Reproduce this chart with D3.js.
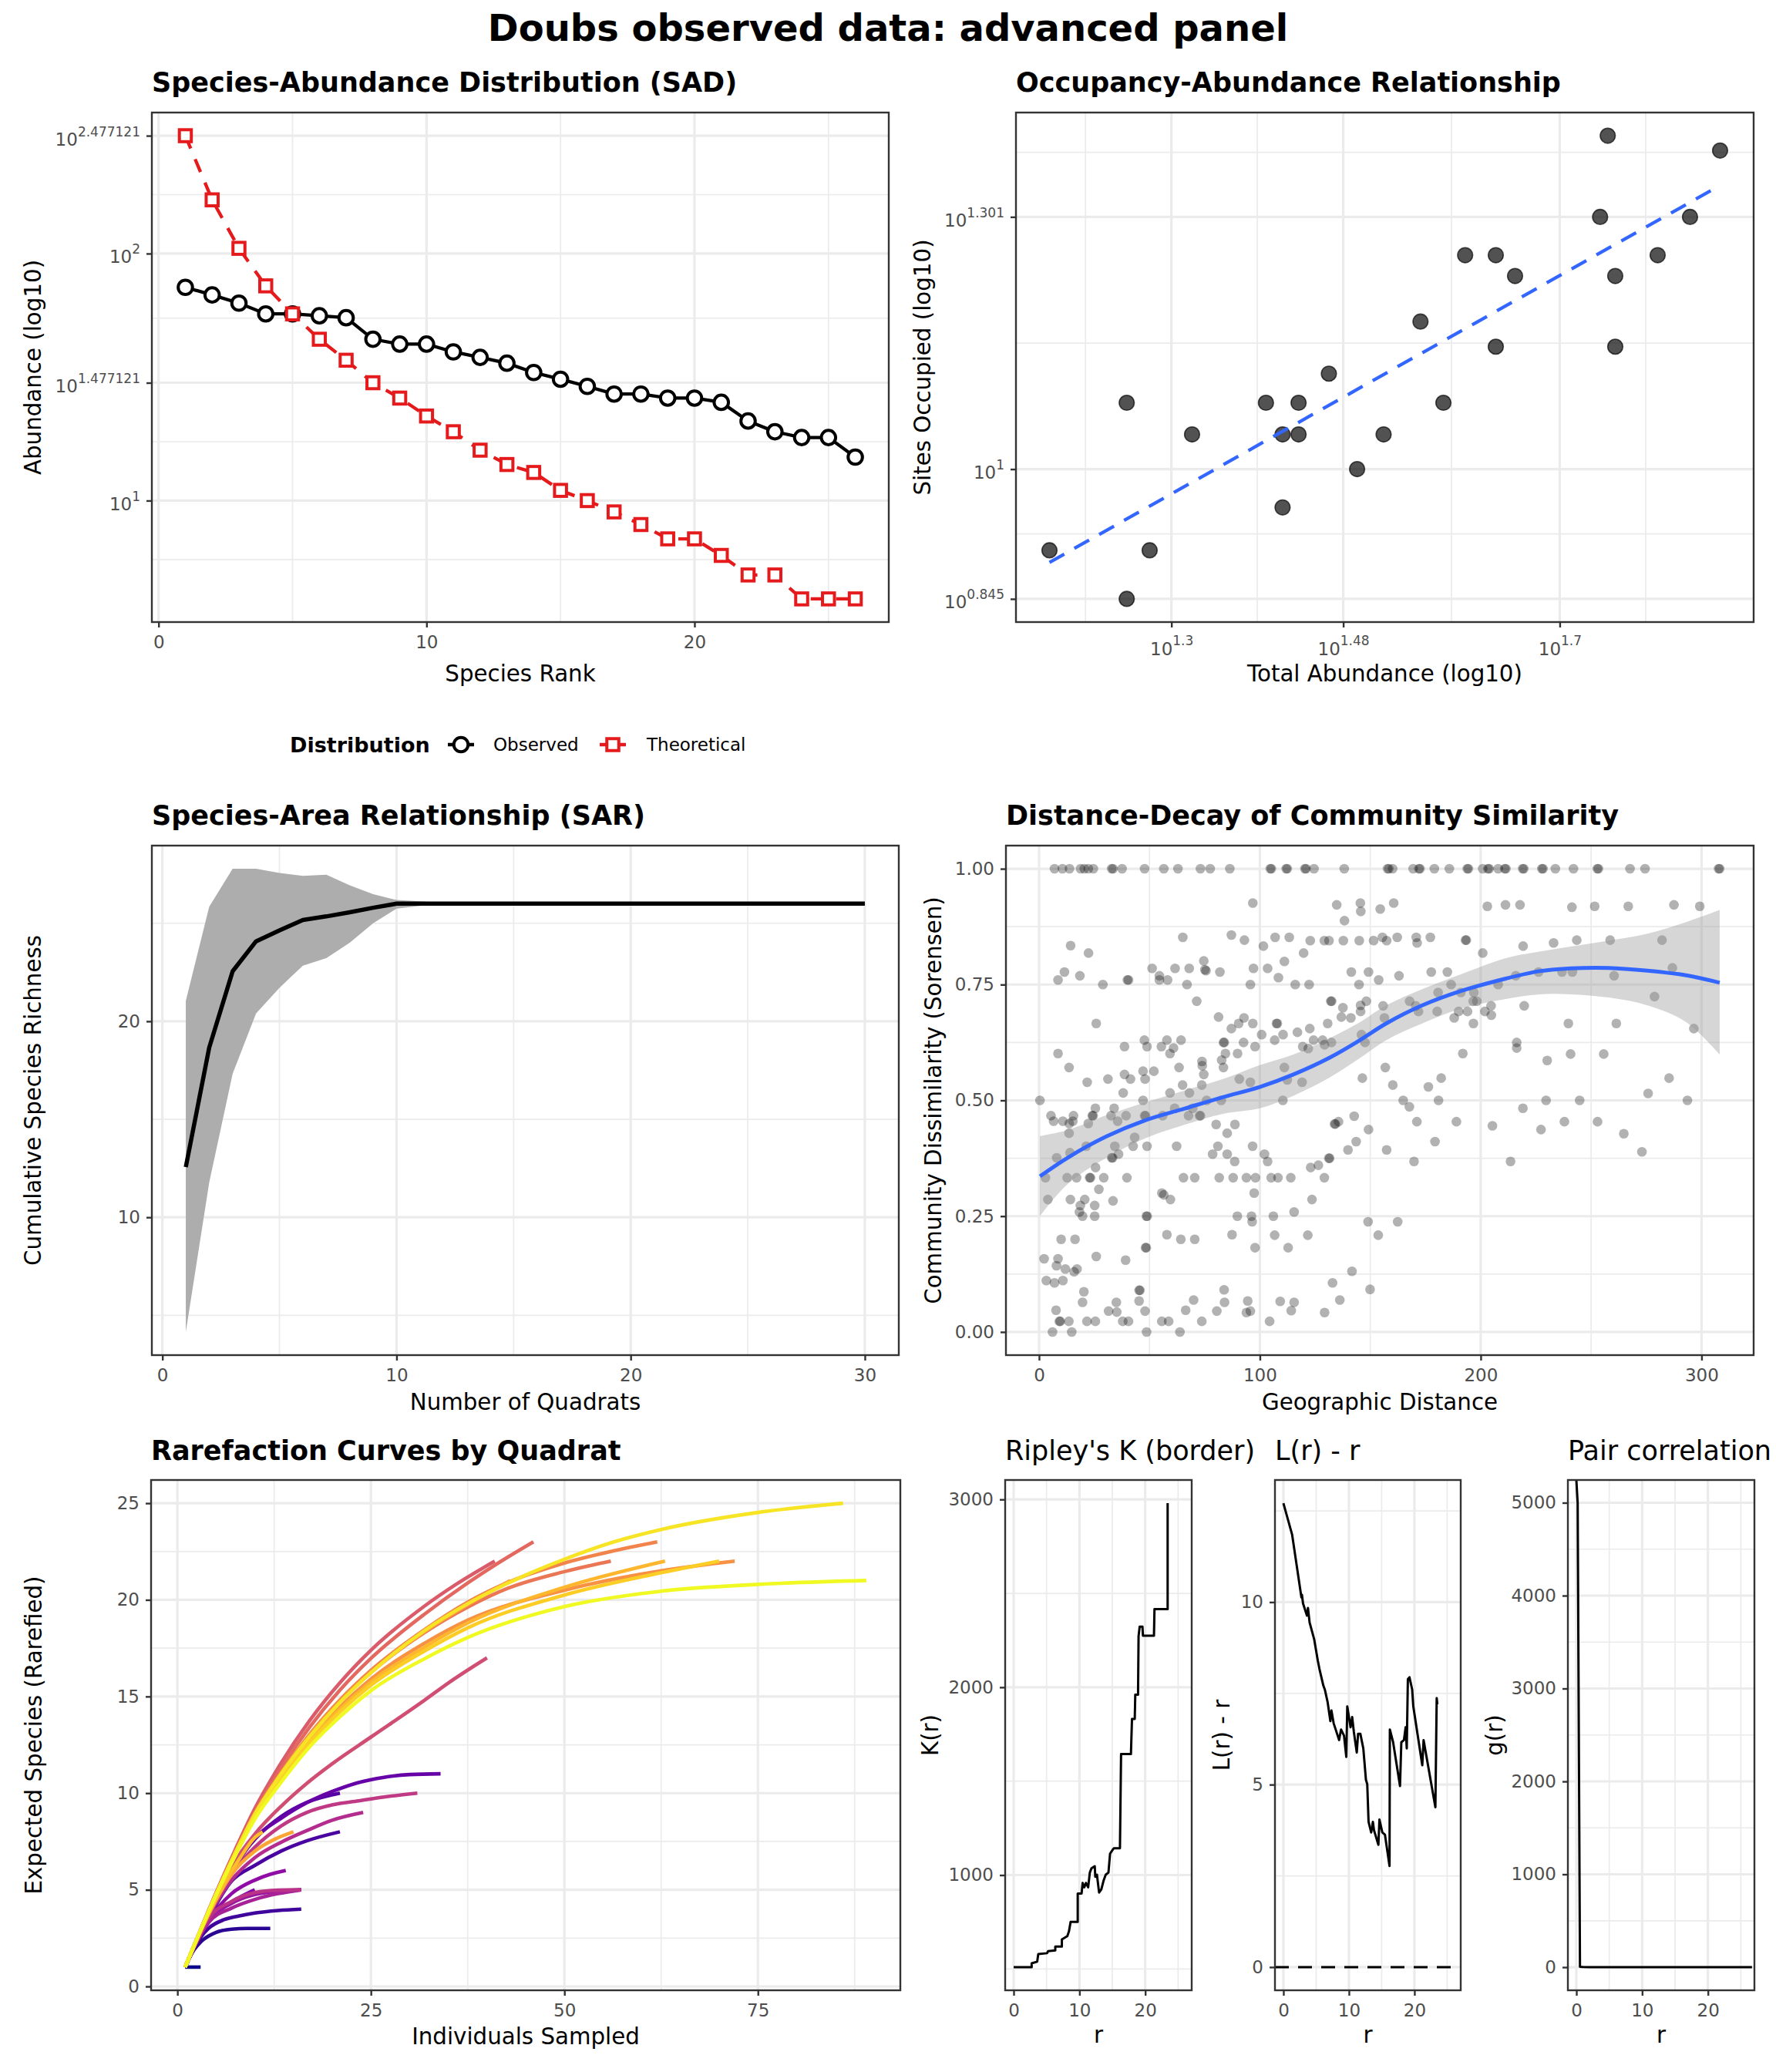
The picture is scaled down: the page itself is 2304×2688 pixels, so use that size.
<!DOCTYPE html>
<html>
<head>
<meta charset="utf-8">
<script src="https://cdn.jsdelivr.net/npm/d3@7/dist/d3.min.js"></script>
<style>
  html, body { margin:0; padding:0; background:#ffffff; }
  svg { display:block; }
</style>
</head>
<body>
<svg id="chart" width="2304" height="2688"></svg>
<script>
// ===================== DATA =====================
// --- Species-Abundance Distribution ---
const speciesRank = [1,2,3,4,5,6,7,8,9,10,11,12,13,14,15,16,17,18,19,20,21,22,23,24,25,26];
const observedAbundance = [73,68,63,57,57,56,55,45,43,43,40,38,36,33,31,29,27,27,26,26,25,21,19,18,18,15];
const theoreticalAbundance = [300,165,105,74,57,45,37,30,26,22,19,16,14,13,11,10,9,8,7,7,6,5,5,4,4,4];
const distributionLabels = ["Observed","Theoretical"];
const sadXTicks = [0,10,20];
const sadXMinor = [5,15,25];
const sadYTicks = [10,30,100,300];
const sadYTickExp = ["1","1.477121","2","2.477121"];
const sadYMinor = [5.774,17.32,54.77,173.2];

// --- Occupancy-Abundance ---
const occAbundance = [15,18,18,19,21,25,26,26,27,27,29,31,33,36,38,40,43,43,45,55,56,57,57,63,68,73];
const occSites     = [8,12,7,8,11,12,11,9,12,11,13,10,11,15,12,18,18,14,17,20,25,17,14,18,20,24];
const occXTicks = [20,30,50];
const occXTickExp = ["1.3","1.48","1.7"];
const occXMinor = [16.33,24.49,38.73,61.24];
const occYTicks = [7,10,20];
const occYTickExp = ["0.845","1","1.301"];
const occYMinor = [8.37,14.14,23.88];

// --- Species-Area Relationship ---
const sarQuadrats = [1,2,3,4,5,6,7,8,9,10,11,12,13,14,15,16,17,18,19,20,21,22,23,24,25,26,27,28,29,30];
const sarMean  = [12.56,18.66,22.55,24.08,24.64,25.17,25.35,25.56,25.79,26.0,26.0,26.0,26.0,26.0,26.0,26.0,26.0,26.0,26.0,26.0,26.0,26.0,26.0,26.0,26.0,26.0,26.0,26.0,26.0,26.0];
const sarUpper = [21.04,25.85,27.78,27.78,27.57,27.42,27.48,26.94,26.48,26.19,26.12,26.05,26.02,26.0,26.0,26.0,26.0,26.0,26.0,26.0,26.0,26.0,26.0,26.0,26.0,26.0,26.0,26.0,26.0,26.0];
const sarLower = [4.15,11.78,17.32,20.40,21.71,22.84,23.22,24.01,25.0,25.75,25.88,25.96,25.99,26.0,26.0,26.0,26.0,26.0,26.0,26.0,26.0,26.0,26.0,26.0,26.0,26.0,26.0,26.0,26.0,26.0];
const sarXTicks = [0,10,20,30];
const sarXMinor = [5,15,25];
const sarYTicks = [10,20];
const sarYMinor = [5,15,25];

// --- Distance-Decay ---
const ddDistance = [
  7.0,10.6,13.8,18.8,20.5,22.3,24.6,32.9,33.5,37.6,
  47.8,56.5,62.9,73.1,77.5,86.4,104.7,105.2,111.9,112.4,
  120.4,120.9,124.5,138.2,157.8,158.4,160.1,169.4,172.0,172.5,
  179.0,185.8,193.9,194.4,200.9,203.3,203.8,207.9,210.9,211.4,
  219.0,219.5,227.7,228.2,233.8,242.0,252.8,253.3,267.6,274.4,
  307.7,308.2,
  96.8,65.1,87.1,93.0,14.3,22.4,11.5,8.6,18.5,28.9,
  40.0,40.5,51.2,54.5,54.5,58.2,61.6,68.0,67.0,74.6,
  75.1,75.6,81.9,97.1,95.7,71.4,25.9,81.3,87.1,90.4,
  92.8,96.8,8.6,38.7,47.7,48.9,55.4,57.9,59.3,60.9,
  64.3,83.5,83.9,84.4,89.9,92.6,97.8,82.7,73.8,73.9,
  83.5,13.6,63.4,74.6,21.8,31.2,38.7,41.4,47.1,48.0,
  52.0,65.0,68.1,59.3,73.7,90.7,95.7,38.1,0.4,47.1,
  75.9,82.5,25.5,34.0,5.4,6.6,10.8,13.7,15.6,15.3,
  24.1,24.5,22.3,32.6,35.6,39.4,47.8,48.2,56.0,61.4,
  67.7,69.6,72.7,73.1,80.2,85.2,88.7,13.6,43.3,21.4,
  34.3,42.6,48.9,62.3,81.0,96.7,8.0,14.0,32.9,33.3,
  36.0,78.6,85.2,88.6,25.6,2.9,12.7,17.0,22.9,23.3,
  29.3,39.8,65.4,70.5,81.6,87.9,93.9,98.0,27.1,4.0,
  14.2,20.7,18.7,25.2,33.5,55.6,56.5,59.5,97.4,18.3,
  19.7,25.2,48.6,49.0,89.8,96.2,96.5,10.0,16.3,57.9,
  64.2,70.5,87.4,97.8,48.2,48.6,2.3,8.6,25.9,39.2,
  7.9,11.9,15.9,17.2,3.3,7.0,10.8,20.3,45.3,45.7,
  83.8,19.7,35.0,45.3,70.0,84.0,94.5,7.7,31.5,35.2,
  48.0,66.4,80.5,93.9,95.7,9.2,9.6,13.5,21.7,25.5,
  37.9,40.5,55.6,58.7,73.7,6.1,14.8,48.7,63.8,
  134.8,145.5,145.7,138.3,154.5,160.6,203.0,211.2,101.6,106.9,
  113.3,122.8,119.8,129.2,131.3,137.8,145.0,151.5,155.5,157.4,
  162.2,170.8,171.2,177.2,193.1,193.5,200.9,103.5,111.1,108.4,
  116.0,122.3,141.4,149.2,144.9,153.8,163.0,177.6,184.9,186.6,
  207.9,132.1,132.5,137.6,145.6,148.2,145.6,136.9,141.2,155.8,
  156.4,167.8,171.8,170.6,180.7,180.3,188.0,190.0,194.0,191.0,
  196.9,196.6,198.2,196.7,201.9,204.7,204.8,107.5,107.9,100.8,
  106.7,110.5,117.0,122.6,130.7,119.4,121.9,124.3,128.4,129.3,
  132.4,146.0,147.6,191.9,111.1,112.4,119.1,146.4,156.8,160.2,
  176.3,182.1,110.4,164.9,167.7,180.9,142.7,133.8,134.2,135.6,
  149.2,171.1,189.0,205.3,143.6,139.9,157.4,179.3,102.1,103.5,
  169.8,131.2,131.6,123.0,126.5,129.2,105.1,108.2,114.0,123.6,
  106.1,115.5,149.0,162.4,106.7,121.7,153.6,112.8,141.7,132.9,
  149.9,109.2,115.5,136.2,114.2,129.3,104.4,
  217.8,241.3,251.6,266.8,287.5,299.2,219.2,233.0,243.5,258.6,
  282.1,215.9,226.2,236.8,241.5,260.4,286.8,219.7,278.7,239.7,
  261.4,296.5,216.3,216.3,230.1,240.7,255.7,285.3,275.8,219.1,
  229.6,244.8,293.6,227.3,237.9,252.9,264.8,273.0,213.5
];
const ddDissimilarity = [
  1,1,1,1,1,1,1,1,1,1,
  1,1,1,1,1,1,1,1,1,1,
  1,1,1,1,1,1,1,1,1,1,
  1,1,1,1,1,1,1,1,1,1,
  1,1,1,1,1,1,1,1,1,1,
  1,1,
  .926,.852,.857,.846,.834,.818,.777,.760,.769,.750,
  .760,.760,.785,.769,.760,.760,.785,.785,.750,.801,
  .782,.780,.777,.785,.750,.714,.666,.680,.655,.666,
  .678,.666,.601,.616,.630,.616,.616,.630,.601,.613,
  .630,.625,.625,.601,.601,.625,.616,.587,.584,.575,
  .571,.571,.571,.556,.539,.546,.556,.546,.563,.546,
  .563,.533,.516,.516,.533,.546,.539,.516,.500,.500,
  .500,.500,.483,.483,.467,.455,.455,.450,.467,.455,
  .467,.467,.450,.467,.455,.467,.467,.467,.467,.483,
  .467,.483,.467,.467,.448,.429,.448,.429,.420,.401,
  .401,.401,.401,.401,.401,.401,.376,.387,.376,.376,
  .384,.384,.384,.368,.355,.333,.333,.333,.333,.333,
  .333,.333,.333,.333,.333,.333,.333,.333,.308,.286,
  .286,.286,.273,.273,.283,.300,.296,.286,.300,.259,
  .250,.250,.250,.250,.250,.250,.238,.200,.200,.210,
  .200,.200,.210,.182,.182,.182,.158,.158,.163,.155,
  .143,.136,.130,.136,.111,.106,.111,.087,.090,.090,
  .091,.064,.064,.067,.069,.064,.067,.047,.045,.043,
  .045,.047,.045,.042,.045,.023,.023,.023,.023,.023,
  .023,.023,.023,.023,.023,0,0,0,0,
  .922,.926,.908,.888,.913,.926,.919,.922,.833,.852,
  .852,.845,.818,.845,.845,.845,.845,.845,.852,.845,
  .852,.852,.840,.852,.846,.846,.818,.785,.800,.765,
  .750,.750,.777,.777,.750,.760,.769,.777,.777,.750,
  .750,.714,.714,.700,.705,.714,.692,.680,.678,.704,
  .678,.714,.692,.704,.733,.692,.678,.692,.692,.733,
  .733,.714,.714,.666,.692,.704,.684,.666,.666,.642,
  .630,.642,.647,.655,.666,.616,.612,.630,.630,.620,
  .625,.642,.625,.601,.571,.544,.539,.548,.571,.533,
  .529,.548,.500,.500,.486,.500,.466,.449,.449,.454,
  .437,.454,.454,.445,.411,.393,.393,.411,.384,.368,
  .368,.375,.375,.355,.360,.333,.333,.333,.333,.286,
  .250,.259,.238,.238,.209,.209,.209,.182,.131,.106,
  .092,.066,.064,.069,.046,.042,.023,
  .922,.917,.919,.919,.922,.919,.833,.840,.846,.846,
  .846,.769,.777,.777,.777,.769,.786,.704,.724,.666,
  .666,.655,.625,.613,.586,.600,.600,.548,.515,.483,
  .500,.500,.500,.437,.454,.454,.428,.389,.368
];
const ddSmoothX = [0.4,12.9,30.5,48.1,65.7,83.3,100,115.2,131.5,144.3,157.2,173.5,191.0,211.4,226.6,240.6,258.0,275.5,293.0,308.2];
const ddSmoothY = [0.336,0.376,0.422,0.457,0.482,0.507,0.529,0.556,0.592,0.627,0.666,0.705,0.736,0.763,0.779,0.785,0.786,0.780,0.770,0.754];
const ddSmoothHi = [0.423,0.436,0.468,0.496,0.521,0.546,0.576,0.599,0.634,0.666,0.705,0.740,0.772,0.807,0.821,0.832,0.845,0.860,0.885,0.911];
const ddSmoothLo = [0.250,0.319,0.376,0.418,0.447,0.471,0.483,0.510,0.549,0.588,0.630,0.666,0.698,0.719,0.729,0.729,0.722,0.705,0.669,0.599];
const ddXTicks = [0,100,200,300];
const ddXMinor = [50,150,250];
const ddYTicks = [0,0.25,0.5,0.75,1];
const ddYMinor = [0.125,0.375,0.625,0.875];

// --- Rarefaction curves (individuals sampled, expected species, plasma position) ---
const rareIndividuals = [
  [1,2,3],
  [1,2,3,4,5,7,9,12],
  [1,2,3,4,6,8,10,13,16],
  [1,2,4,6,8,10],
  [1,2,4,7,10,13,16],
  [1,2,4,7,10,13,16],
  [1,2,4,7,10,13,16],
  [1,2,4,7,10,12,14],
  [1,2,4,7,10,13.4,16.7,21],
  [1,2,4,7,10,13.4,16.7,20,24],
  [1,2,4,7,10,12.5,15],
  [1,2,4,6,8,10,11],
  [1,2,4,6.8,10.1,13.4,16.7,21],
  [1,2,4,7,10.1,13.4,16.7,20.1,23.4,26.7,30,34],
  [1,2,4,7,10,13.4,16.7,20.1,23.4,26.7,31],
  [1,2,4,7,10.1,13.4,16.7,20.1,25,31.9,35,40],
  [1,2,3,5,7.5,10,13,17.1,21,25,31.9,36,41],
  [1,2,3,5,7.5,10,13,17.1,21,25,31.9,37.5,42,46],
  [1,2,3,5,7.5,10,13,17.1,21,25,31.9,37.5,43],
  [1,2,3,5,7.5,10,13,17.1,21,25,31.9,37.5,42.7,50,56],
  [1,2,3,5,7.5,10,13,17.1,21,25,31.9,37.5,42.7,50,56,62],
  [1,2,3,5,7.5,10,13,17.1,21,25,31.9,37.5,50,62.5,72],
  [1,2,3,5,7.5,10,13,17.1,21,25,31.9,37.5,50,63],
  [1,2,3,5,7.5,10,13,17.1,21,25,31.9,37.5,50,62.5,70],
  [1,2,3,5,7.5,10,13,17.1,21,25,31.9,37.5,44.2,50,56.4,62.5,75,86],
  [1,2,3,5,7.5,10,13,17.1,21,25,31.9,37.5,50,62.5,75,89]
];
const rareSpecies = [
  [1,1,1],
  [1,1.8,2.3,2.6,2.8,2.96,3.0,3.0],
  [1,1.9,2.55,3.0,3.45,3.65,3.8,3.93,4.0],
  [1,1.9,3.3,4.1,4.6,5.0],
  [1,1.9,3.4,4.3,4.75,4.93,5.0],
  [1,1.9,3.3,4.05,4.5,4.8,5.0],
  [1,1.92,3.5,4.4,4.85,4.98,5.0],
  [1,1.9,3.4,4.8,5.5,5.8,6.0],
  [1,1.9,3.5,5.45,6.26,7.0,7.53,8.0],
  [1,1.92,3.6,5.5,6.66,7.46,8.06,8.6,9.0],
  [1,1.95,3.7,5.8,7.0,7.6,8.0],
  [1,1.95,3.75,5.3,6.6,7.7,8.0],
  [1,1.9,3.7,5.9,7.66,8.79,9.52,10],
  [1,1.9,3.7,5.9,7.7,8.7,9.5,10.1,10.55,10.82,10.96,11],
  [1,1.9,3.6,5.8,7.2,8.3,9.0,9.4,9.6,9.8,10],
  [1,1.95,3.8,6.2,7.93,9.32,10.5,11.55,12.9,14.8,15.7,17],
  [1,1.97,2.94,4.85,7.1,9.2,11.3,13.76,15.71,17.39,19.67,20.8,22],
  [1,1.97,2.93,4.82,7.0,9.0,11.04,13.42,15.33,16.97,19.25,20.87,22.04,23],
  [1,1.96,2.92,4.78,6.93,8.95,10.8,13.0,14.75,16.25,18.35,19.75,21],
  [1,1.96,2.92,4.78,6.93,8.95,10.8,13.0,14.75,16.25,18.3,19.62,20.6,21.46,22],
  [1,1.96,2.92,4.78,6.93,8.95,10.82,13.05,14.82,16.35,18.45,19.88,20.9,21.9,22.5,23],
  [1,1.96,2.91,4.76,6.88,8.85,10.65,12.78,14.45,15.9,17.75,18.95,20.5,21.5,22],
  [1,1.96,2.91,4.75,6.86,8.8,10.6,12.7,14.35,15.75,17.55,18.8,20.65,22],
  [1,1.96,2.91,4.74,6.84,8.75,10.52,12.6,14.2,15.58,17.35,18.55,20.25,21.4,22],
  [1,1.96,2.92,4.78,6.93,8.9,10.76,12.93,14.69,16.23,18.4,19.8,21.14,22.1,23.0,23.64,24.52,25],
  [1,1.96,2.9,4.72,6.78,8.65,10.35,12.4,13.95,15.3,16.95,18.05,19.65,20.45,20.8,21]
];
const rarePalettePos = [0.0,0.05,0.09,0.27,0.33,0.37,0.43,0.30,0.12,0.41,0.80,0.86,0.15,0.19,0.45,0.52,0.57,0.61,0.77,0.66,0.70,0.74,0.84,0.90,0.95,1.0];
const rareXTicks = [0,25,50,75];
const rareXMinor = [12.5,37.5,62.5,87.5];
const rareYTicks = [0,5,10,15,20,25];
const rareYMinor = [2.5,7.5,12.5,17.5,22.5];

// --- Point pattern summaries ---
const rMax = 25.78;
const kR   = [0,2.74,2.74,3.58,3.74,5.08,5.24,6.33,6.33,7.33,7.33,8.16,8.41,8.66,9.08,9.74,9.74,10.33,10.49,10.74,10.99,11.33,11.58,11.83,12.33,12.41,12.66,12.99,13.33,13.66,14.0,14.41,14.66,15.08,15.24,16.16,16.33,17.83,17.99,18.41,18.49,18.91,18.99,19.16,19.58,19.66,21.33,21.41,23.41,23.41];
const kVal = [510,510,530,539,579,584,595,599,619,619,657,675,700,751,751,751,902,902,958,935,958,935,1013,1036,1047,991,1002,907,924,969,1002,1013,1114,1136,1143,1143,1644,1644,1831,1831,1960,1960,2272,2323,2323,2274,2274,2416,2416,2980];
const lR   = [0,1.33,2.75,2.83,3.0,3.6,3.75,4.0,4.7,5.25,5.5,6.1,6.33,6.75,7.17,7.33,7.67,8.2,8.5,8.8,9.25,9.6,9.75,10.25,10.5,10.75,11.2,11.4,11.75,12.2,12.6,12.8,13.0,13.4,13.66,13.83,14.5,14.66,15.1,15.5,16.2,16.25,16.75,17.8,18.0,18.4,18.66,18.83,19.0,19.25,19.66,19.83,21.2,21.4,23.2,23.4,23.5];
const lVal = [12.71,11.85,10.13,10.2,9.96,9.63,9.84,9.44,8.98,8.40,8.17,7.71,7.6,7.26,6.74,7.03,6.68,6.39,6.22,6.51,6.34,5.76,7.14,6.57,6.85,6.45,5.88,6.39,6.39,5.99,5.13,5.01,3.98,3.69,3.98,3.75,3.35,4.04,3.69,3.63,2.77,6.51,6.16,4.96,6.16,6.22,6.57,5.99,7.89,7.94,7.6,7.14,5.53,6.22,4.38,7.37,7.2];
const gR   = [0,0.2,0.55,1,2,5,10,15,20,25,26.7];
const gVal = [Infinity,4995,5,1.5,1.1,1.0,1.0,1.0,1.0,1.0,1.0];
const rTicks = [0,10,20];
const rMinor = [5,15,25];
const kYTicks = [1000,2000,3000];
const kYMinor = [500,1500,2500];
const lYTicks = [0,5,10];
const lYMinor = [2.5,7.5,12.5];
const gYTicks = [0,1000,2000,3000,4000,5000];
const gYMinor = [500,1500,2500,3500,4500];

// ===================== STYLE / HELPERS =====================
const FONT = "'DejaVu Sans', 'Liberation Sans', sans-serif";
const GRID = "#EBEBEB", INK = "#333333", TICK_TXT = "#4D4D4D";
const RED = "#E41A1C", BLUE = "#3366FF";

const svg = d3.select("#chart");
svg.append("rect").attr("width", 2304).attr("height", 2688).attr("fill", "#ffffff");
const defs = svg.append("defs");

function expand(lo, hi, m = 0.05) { const d = (hi - lo) * m; return [lo - d, hi + d]; }
const pow10 = v => Math.pow(10, v);

let clipN = 0;
function panel(box, x, y, o) {
  const g = svg.append("g");
  const id = "clip" + (clipN++);
  defs.append("clipPath").attr("id", id).append("rect")
    .attr("x", box.x0).attr("y", box.y0).attr("width", box.x1 - box.x0).attr("height", box.y1 - box.y0);
  const grid = g.append("g");
  const vline = (v, w) => grid.append("line").attr("x1", x(v)).attr("x2", x(v)).attr("y1", box.y0).attr("y2", box.y1).attr("stroke", GRID).attr("stroke-width", w);
  const hline = (v, w) => grid.append("line").attr("y1", y(v)).attr("y2", y(v)).attr("x1", box.x0).attr("x2", box.x1).attr("stroke", GRID).attr("stroke-width", w);
  (o.xMinor || []).forEach(v => vline(v, 1.7));
  (o.yMinor || []).forEach(v => hline(v, 1.7));
  o.xTicks.forEach(v => vline(v, 3.2));
  o.yTicks.forEach(v => hline(v, 3.2));
  return g.append("g").attr("clip-path", `url(#${id})`);
}
function frame(box, x, y, o) {
  svg.append("rect").attr("x", box.x0).attr("y", box.y0).attr("width", box.x1 - box.x0).attr("height", box.y1 - box.y0)
    .attr("fill", "none").attr("stroke", INK).attr("stroke-width", 2.4);
  const gx = svg.append("g").attr("transform", `translate(0,${box.y1})`)
    .call(d3.axisBottom(x).tickValues(o.xTicks).tickSize(7).tickPadding(11).tickFormat(o.xFmt || d3.format("d")));
  const gy = svg.append("g").attr("transform", `translate(${box.x0},0)`)
    .call(d3.axisLeft(y).tickValues(o.yTicks).tickSize(7).tickPadding(8).tickFormat(o.yFmt || d3.format("d")));
  [gx, gy].forEach(a => {
    a.attr("font-family", FONT).attr("font-size", 23);
    a.select(".domain").remove();
    a.selectAll(".tick line").attr("stroke", INK).attr("stroke-width", 2.4);
    a.selectAll(".tick text").attr("fill", TICK_TXT);
  });
  return { gx, gy };
}
function powLabelsY(gy, exps) {
  gy.selectAll(".tick text").each(function(d, i) {
    const t = d3.select(this).text(null).attr("dy", null).attr("y", 12);
    t.append("tspan").text("10");
    t.append("tspan").attr("font-size", 17).attr("dy", -12).text(exps[i]);
  });
}
function powLabelsX(gx, exps) {
  gx.selectAll(".tick text").each(function(d, i) {
    const t = d3.select(this).text(null).attr("dy", null).attr("y", 43);
    t.append("tspan").text("10");
    t.append("tspan").attr("font-size", 17).attr("dy", -13).text(exps[i]);
  });
}
function label(x, y, s, size, opts = {}) {
  return svg.append("text").attr("x", x).attr("y", y).attr("font-family", FONT).attr("font-size", size)
    .attr("font-weight", opts.bold ? "bold" : "normal").attr("text-anchor", opts.anchor || "start")
    .attr("fill", opts.fill || "#000").text(s);
}
function vlabel(x, y, s, size) {
  return svg.append("text").attr("transform", `translate(${x},${y}) rotate(-90)`).attr("text-anchor", "middle")
    .attr("font-family", FONT).attr("font-size", size).attr("fill", "#000").text(s);
}
const TITLE = 35, AXT = 29.3;

// ===================== MAIN TITLE =====================
label(1152, 53, "Doubs observed data: advanced panel", 48, { bold: true, anchor: "middle" });

// ===================== SAD =====================
{
  const box = { x0: 197, x1: 1153, y0: 146, y1: 807 };
  const x = d3.scaleLinear().domain(expand(d3.min(speciesRank), d3.max(speciesRank))).range([box.x0, box.x1]);
  const all = observedAbundance.concat(theoreticalAbundance);
  const y = d3.scaleLog().domain(expand(Math.log10(d3.min(all)), Math.log10(d3.max(all))).map(pow10)).range([box.y1, box.y0]);
  const o = { xTicks: sadXTicks, xMinor: sadXMinor, yTicks: sadYTicks, yMinor: sadYMinor };
  const p = panel(box, x, y, o);
  const line = d3.line().x((d, i) => x(speciesRank[i])).y(d => y(d));
  p.append("path").attr("d", line(observedAbundance)).attr("fill", "none").attr("stroke", "#000").attr("stroke-width", 4.3);
  p.append("path").attr("d", line(theoreticalAbundance)).attr("fill", "none").attr("stroke", RED).attr("stroke-width", 4.3).attr("stroke-dasharray", "18,15");
  p.selectAll("circle.obs").data(observedAbundance).join("circle").attr("class", "obs")
    .attr("cx", (d, i) => x(speciesRank[i])).attr("cy", d => y(d)).attr("r", 9.3)
    .attr("fill", "#fff").attr("stroke", "#000").attr("stroke-width", 4);
  const sq = 15.5;
  p.selectAll("rect.theo").data(theoreticalAbundance).join("rect").attr("class", "theo")
    .attr("x", (d, i) => x(speciesRank[i]) - sq / 2).attr("y", d => y(d) - sq / 2).attr("width", sq).attr("height", sq)
    .attr("fill", "#fff").attr("stroke", RED).attr("stroke-width", 4);
  const { gy } = frame(box, x, y, o);
  powLabelsY(gy, sadYTickExp);
  label(box.x0, 119, "Species-Abundance Distribution (SAD)", TITLE, { bold: true });
  label((box.x0 + box.x1) / 2, 884, "Species Rank", AXT, { anchor: "middle" });
  vlabel(53, (box.y0 + box.y1) / 2, "Abundance (log10)", AXT);

  // legend
  const ly = 966;
  label(376, ly + 9.5, "Distribution", 27, { bold: true });
  svg.append("line").attr("x1", 581).attr("x2", 615).attr("y1", ly).attr("y2", ly).attr("stroke", "#000").attr("stroke-width", 4.3);
  svg.append("circle").attr("cx", 598).attr("cy", ly).attr("r", 9.3).attr("fill", "#fff").attr("stroke", "#000").attr("stroke-width", 4);
  label(640, ly + 8.4, distributionLabels[0], 23);
  svg.append("line").attr("x1", 778).attr("x2", 812).attr("y1", ly).attr("y2", ly).attr("stroke", RED).attr("stroke-width", 4.3).attr("stroke-dasharray", "9,16");
  svg.append("rect").attr("x", 795 - sq / 2).attr("y", ly - sq / 2).attr("width", sq).attr("height", sq).attr("fill", "#fff").attr("stroke", RED).attr("stroke-width", 4);
  label(839, ly + 8.4, distributionLabels[1], 23);
}

// ===================== OCCUPANCY =====================
{
  const box = { x0: 1318, x1: 2275, y0: 146, y1: 807 };
  const lx = occAbundance.map(Math.log10), lyv = occSites.map(Math.log10);
  const x = d3.scaleLog().domain(expand(d3.min(lx), d3.max(lx)).map(pow10)).range([box.x0, box.x1]);
  const y = d3.scaleLog().domain(expand(d3.min(lyv), d3.max(lyv)).map(pow10)).range([box.y1, box.y0]);
  const o = { xTicks: occXTicks, xMinor: occXMinor, yTicks: occYTicks, yMinor: occYMinor };
  const p = panel(box, x, y, o);
  p.selectAll("circle").data(occAbundance).join("circle")
    .attr("cx", d => x(d)).attr("cy", (d, i) => y(occSites[i])).attr("r", 9.8)
    .attr("fill", "#000").attr("fill-opacity", 0.68).attr("stroke", "#000").attr("stroke-opacity", 0.68).attr("stroke-width", 1.6);
  // least-squares fit in log-log space
  const mx = d3.mean(lx), my = d3.mean(lyv);
  const b = d3.sum(lx, (v, i) => (v - mx) * (lyv[i] - my)) / d3.sum(lx, v => (v - mx) * (v - mx));
  const a = my - b * mx;
  const ends = [d3.min(lx), d3.max(lx)];
  p.append("path").attr("d", d3.line()(ends.map(v => [x(pow10(v)), y(pow10(a + b * v))])))
    .attr("fill", "none").attr("stroke", BLUE).attr("stroke-width", 4.3).attr("stroke-dasharray", "22,15");
  const { gx, gy } = frame(box, x, y, o);
  powLabelsX(gx, occXTickExp);
  powLabelsY(gy, occYTickExp);
  label(box.x0, 119, "Occupancy-Abundance Relationship", TITLE, { bold: true });
  label((box.x0 + box.x1) / 2, 884, "Total Abundance (log10)", AXT, { anchor: "middle" });
  vlabel(1207, (box.y0 + box.y1) / 2, "Sites Occupied (log10)", AXT);
}

// ===================== SAR =====================
{
  const box = { x0: 197, x1: 1166, y0: 1097, y1: 1758 };
  const x = d3.scaleLinear().domain(expand(d3.min(sarQuadrats), d3.max(sarQuadrats))).range([box.x0, box.x1]);
  const y = d3.scaleLinear().domain(expand(d3.min(sarLower), d3.max(sarUpper))).range([box.y1, box.y0]);
  const o = { xTicks: sarXTicks, xMinor: sarXMinor, yTicks: sarYTicks, yMinor: sarYMinor };
  const p = panel(box, x, y, o);
  p.append("path").attr("d", d3.area().x((d, i) => x(sarQuadrats[i])).y0((d, i) => y(sarLower[i])).y1(d => y(d))(sarUpper))
    .attr("fill", "#ADADAD");
  p.append("path").attr("d", d3.line().x((d, i) => x(sarQuadrats[i])).y(d => y(d))(sarMean))
    .attr("fill", "none").attr("stroke", "#000").attr("stroke-width", 5.5).attr("stroke-linejoin", "round");
  frame(box, x, y, o);
  label(box.x0, 1070, "Species-Area Relationship (SAR)", TITLE, { bold: true });
  label((box.x0 + box.x1) / 2, 1829, "Number of Quadrats", AXT, { anchor: "middle" });
  vlabel(53, (box.y0 + box.y1) / 2, "Cumulative Species Richness", AXT);
}

// ===================== DISTANCE-DECAY =====================
{
  const box = { x0: 1305, x1: 2275, y0: 1097, y1: 1758 };
  const x = d3.scaleLinear().domain(expand(d3.min(ddDistance), d3.max(ddDistance))).range([box.x0, box.x1]);
  const y = d3.scaleLinear().domain(expand(d3.min(ddDissimilarity), d3.max(ddDissimilarity))).range([box.y1, box.y0]);
  const o = { xTicks: ddXTicks, xMinor: ddXMinor, yTicks: ddYTicks, yMinor: ddYMinor, yFmt: d3.format(".2f") };
  const p = panel(box, x, y, o);
  p.selectAll("circle").data(ddDistance).join("circle")
    .attr("cx", d => x(d)).attr("cy", (d, i) => y(ddDissimilarity[i])).attr("r", 6.3)
    .attr("fill", "#000").attr("fill-opacity", 0.3);
  p.append("path").attr("d", d3.area().curve(d3.curveCatmullRom).x((d, i) => x(ddSmoothX[i])).y0((d, i) => y(ddSmoothLo[i])).y1(d => y(d))(ddSmoothHi))
    .attr("fill", "#999999").attr("fill-opacity", 0.4);
  p.append("path").attr("d", d3.line().curve(d3.curveCatmullRom).x((d, i) => x(ddSmoothX[i])).y(d => y(d))(ddSmoothY))
    .attr("fill", "none").attr("stroke", BLUE).attr("stroke-width", 5);
  frame(box, x, y, o);
  label(box.x0, 1070, "Distance-Decay of Community Similarity", TITLE, { bold: true });
  label((box.x0 + box.x1) / 2, 1829, "Geographic Distance", AXT, { anchor: "middle" });
  vlabel(1221, (box.y0 + box.y1) / 2, "Community Dissimilarity (Sorensen)", AXT);
}

// ===================== RAREFACTION =====================
{
  const box = { x0: 196, x1: 1168, y0: 1920, y1: 2582 };
  const allN = rareIndividuals.flat(), allS = rareSpecies.flat();
  const x = d3.scaleLinear().domain(expand(d3.min(allN), d3.max(allN))).range([box.x0, box.x1]);
  const y = d3.scaleLinear().domain(expand(d3.min(allS), d3.max(allS))).range([box.y1, box.y0]);
  const o = { xTicks: rareXTicks, xMinor: rareXMinor, yTicks: rareYTicks, yMinor: rareYMinor };
  const p = panel(box, x, y, o);
  const order = d3.range(rareIndividuals.length).sort((a, b) => rarePalettePos[a] - rarePalettePos[b]);
  order.forEach(k => {
    const line = d3.line().curve(d3.curveMonotoneX).x((d, i) => x(rareIndividuals[k][i])).y(d => y(d));
    p.append("path").attr("d", line(rareSpecies[k])).attr("fill", "none")
      .attr("stroke", d3.interpolatePlasma(rarePalettePos[k])).attr("stroke-width", 4.6);
  });
  frame(box, x, y, o);
  label(box.x0, 1894, "Rarefaction Curves by Quadrat", TITLE, { bold: true });
  label((box.x0 + box.x1) / 2, 2652, "Individuals Sampled", AXT, { anchor: "middle" });
  vlabel(54, (box.y0 + box.y1) / 2, "Expected Species (Rarefied)", AXT);
}

// ===================== POINT PATTERN PANELS =====================
function rPanel(box, yVals, rVals, yTicks, yMinor, title, ytitle, ytitleX, extra) {
  const x = d3.scaleLinear().domain(expand(0, rMax)).range([box.x0, box.x1]);
  const finite = yVals.filter(Number.isFinite).concat(extra || []);
  const y = d3.scaleLinear().domain(expand(d3.min(finite), d3.max(finite))).range([box.y1, box.y0]);
  const o = { xTicks: rTicks, xMinor: rMinor, yTicks: yTicks, yMinor: yMinor };
  const p = panel(box, x, y, o);
  if (extra) {
    p.append("line").attr("x1", box.x0).attr("x2", box.x1).attr("y1", y(0)).attr("y2", y(0))
      .attr("stroke", "#000").attr("stroke-width", 3).attr("stroke-dasharray", "18,12");
  }
  const line = d3.line().x((d, i) => x(rVals[i])).y(d => Number.isFinite(d) ? y(d) : box.y0);
  p.append("path").attr("d", line(yVals)).attr("fill", "none").attr("stroke", "#000").attr("stroke-width", 3).attr("stroke-linejoin", "round");
  frame(box, x, y, o);
  label(box.x0, 1894, title, 35);
  label((box.x0 + box.x1) / 2, 2650, "r", AXT, { anchor: "middle" });
  vlabel(ytitleX, (box.y0 + box.y1) / 2, ytitle, AXT);
}
rPanel({ x0: 1304, x1: 1546, y0: 1920, y1: 2582 }, kVal, kR, kYTicks, kYMinor, "Ripley's K (border)", "K(r)", 1217);
rPanel({ x0: 1654, x1: 1895, y0: 1920, y1: 2582 }, lVal, lR, lYTicks, lYMinor, "L(r) - r", "L(r) - r", 1595, [0]);
rPanel({ x0: 2034, x1: 2276, y0: 1920, y1: 2582 }, gVal, gR, gYTicks, gYMinor, "Pair correlation", "g(r)", 1949);
</script>
</body>
</html>
